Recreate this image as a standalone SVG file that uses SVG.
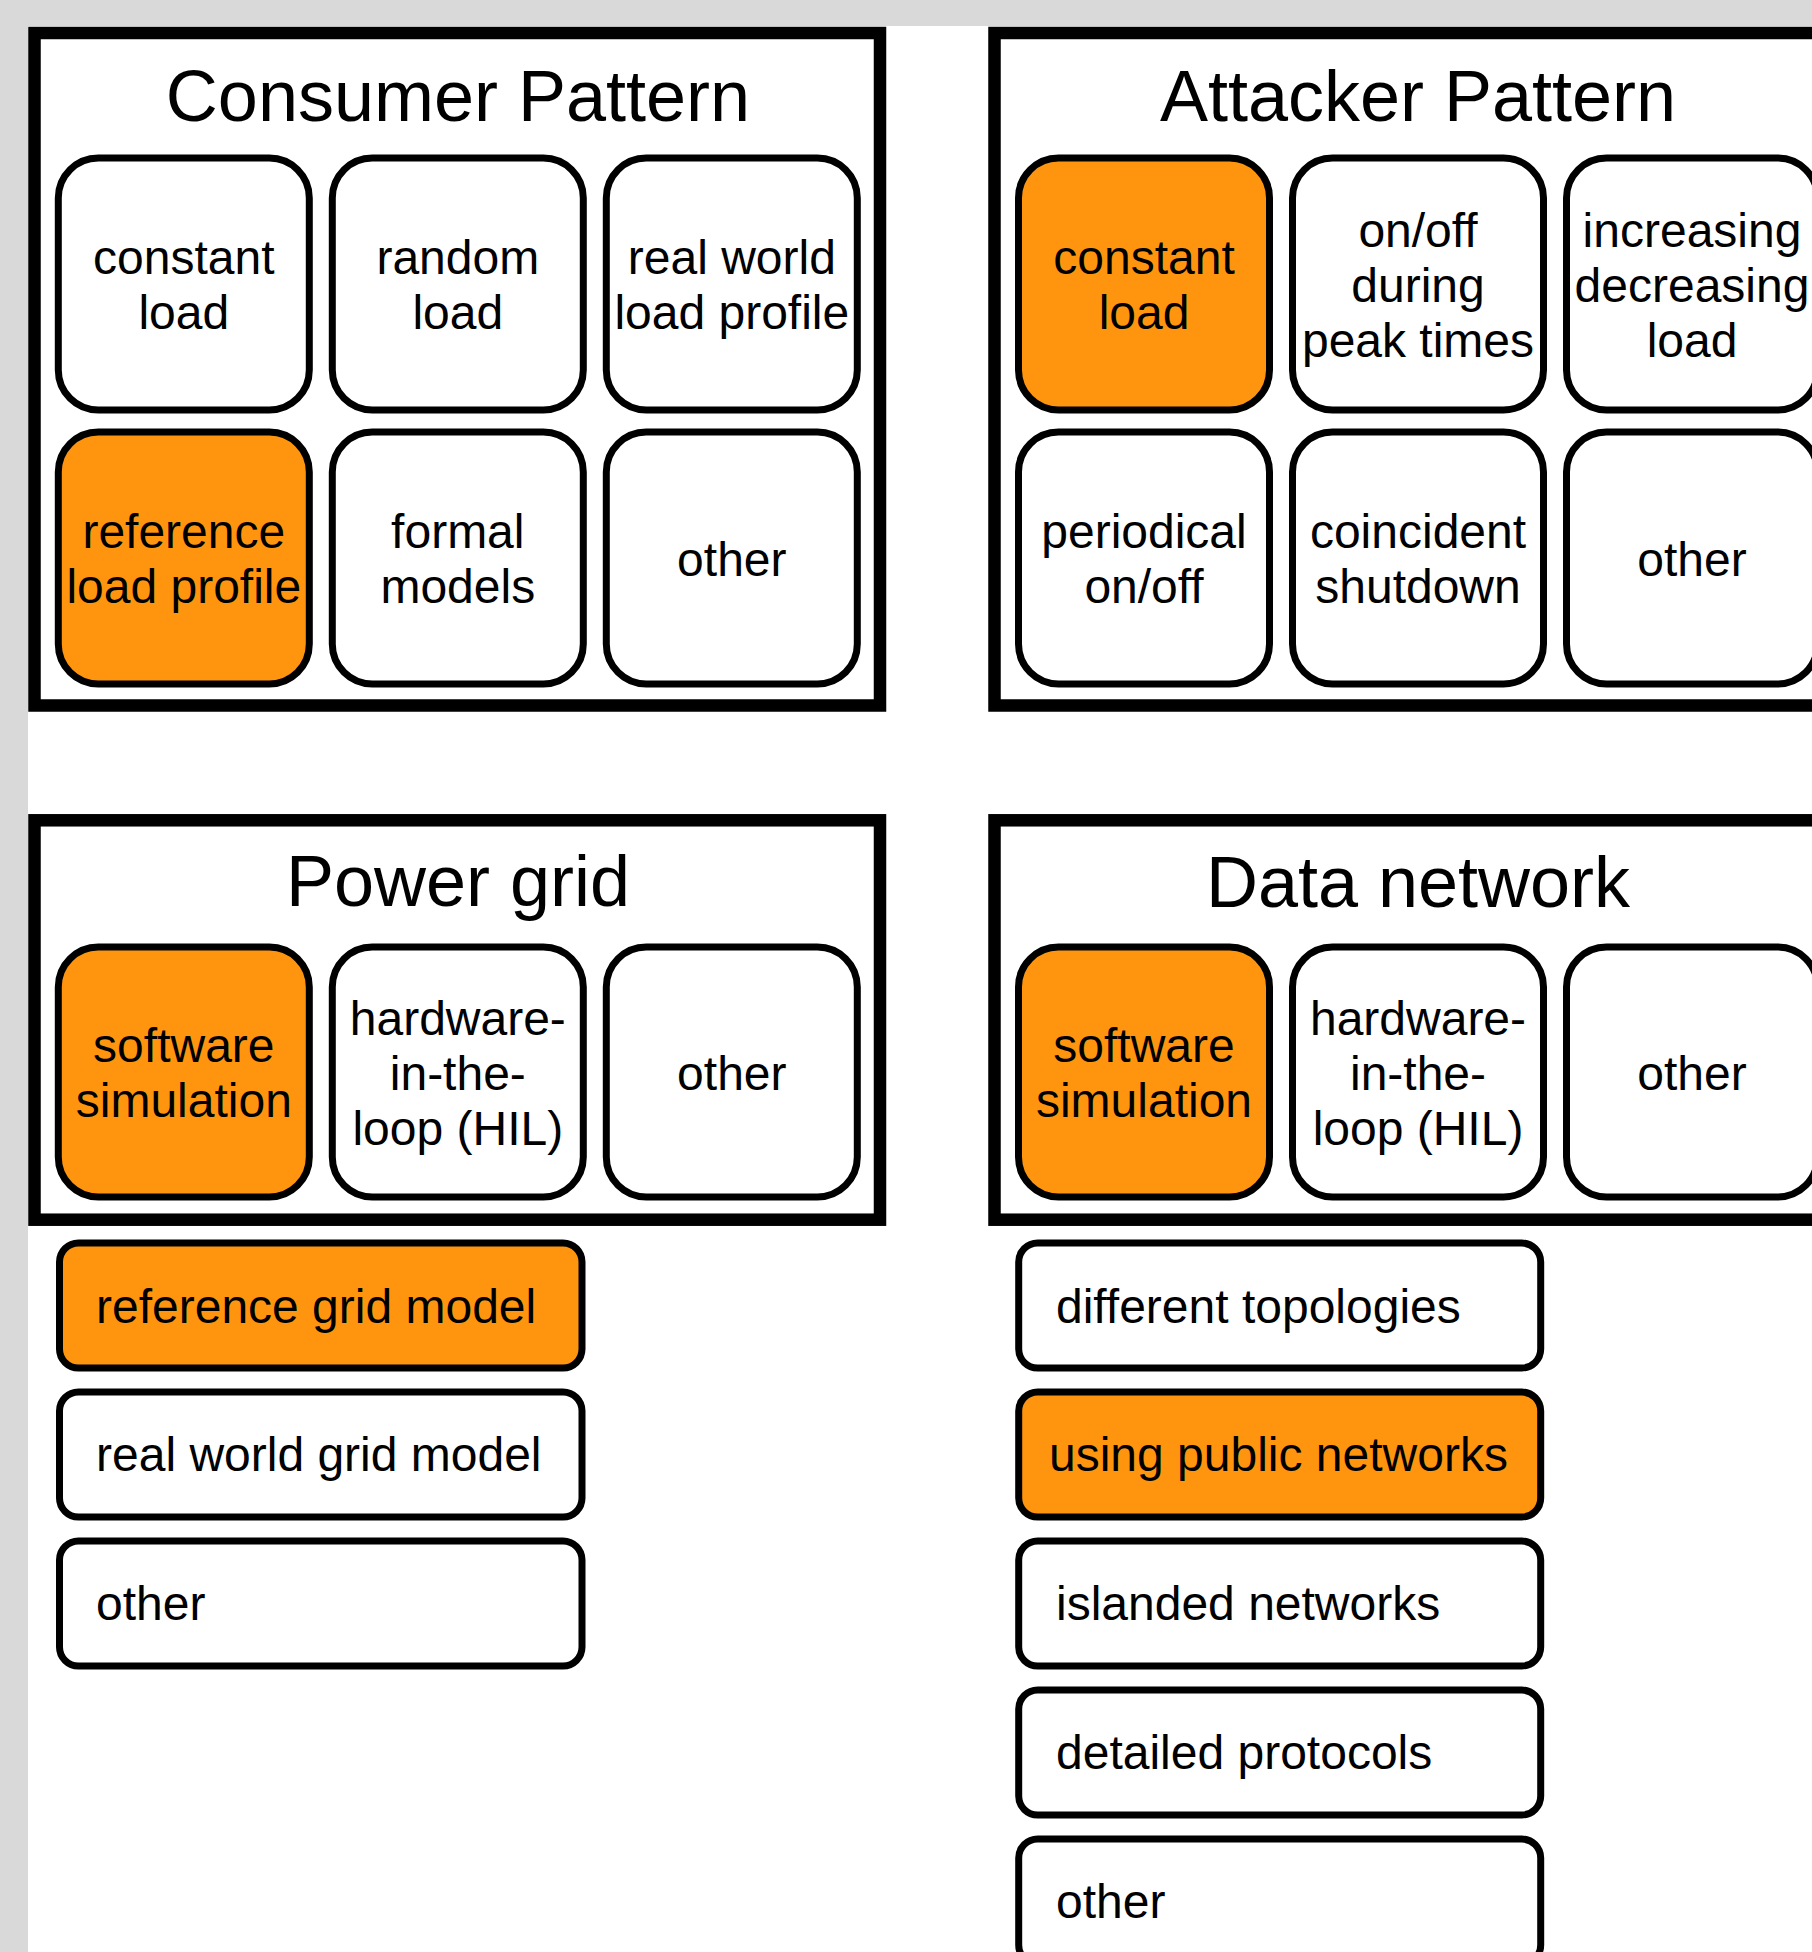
<svg xmlns="http://www.w3.org/2000/svg" width="1812" height="1952" viewBox="0 0 1812 1952">
<style>
.bg{fill:#d9d9d9}
.page{fill:#ffffff}
.panel{fill:#ffffff;stroke:#000;stroke-width:12.5}
.box{fill:#ffffff;stroke:#000;stroke-width:7}
.hl{fill:#ff950e}
.title{font-family:"Liberation Sans",Arial,sans-serif;font-size:72px;fill:#000;text-anchor:middle}
.lbl{font-family:"Liberation Sans",Arial,sans-serif;font-size:48px;fill:#000;text-anchor:middle}
.lst{font-family:"Liberation Sans",Arial,sans-serif;font-size:48px;fill:#000}
</style>
<rect class="bg" x="0" y="0" width="1812" height="1952"/>
<rect class="page" x="28" y="26" width="1784" height="1926"/>

<g id="consumer-pattern">
<rect class="panel" x="34.5" y="33" width="845.5" height="672.5"/>
<text class="title" x="458" y="121">Consumer Pattern</text>
</g>
<g id="cp-constant-load"><rect class="box" x="58.3" y="158" width="251" height="252" rx="40"/><text class="lbl" x="183.8" y="274">constant</text><text class="lbl" x="183.8" y="329">load</text></g>
<g id="cp-random-load"><rect class="box" x="332.3" y="158" width="251" height="252" rx="40"/><text class="lbl" x="457.8" y="274">random</text><text class="lbl" x="457.8" y="329">load</text></g>
<g id="cp-real-world"><rect class="box" x="606.3" y="158" width="251" height="252" rx="40"/><text class="lbl" x="731.8" y="274">real world</text><text class="lbl" x="731.8" y="329">load profile</text></g>
<g id="cp-reference"><rect class="box hl" x="58.3" y="432" width="251" height="252" rx="40"/><text class="lbl" x="183.8" y="548">reference</text><text class="lbl" x="183.8" y="603">load profile</text></g>
<g id="cp-formal"><rect class="box" x="332.3" y="432" width="251" height="252" rx="40"/><text class="lbl" x="457.8" y="548">formal</text><text class="lbl" x="457.8" y="603">models</text></g>
<g id="cp-other"><rect class="box" x="606.3" y="432" width="251" height="252" rx="40"/><text class="lbl" x="731.8" y="575.5">other</text></g>

<g id="attacker-pattern">
<rect class="panel" x="994.5" y="33" width="845.5" height="672.5"/>
<text class="title" x="1418" y="121">Attacker Pattern</text>
</g>
<g id="ap-constant-load"><rect class="box hl" x="1018.5" y="158" width="251" height="252" rx="40"/><text class="lbl" x="1144" y="274">constant</text><text class="lbl" x="1144" y="329">load</text></g>
<g id="ap-onoff-peak"><rect class="box" x="1292.5" y="158" width="251" height="252" rx="40"/><text class="lbl" x="1418" y="246.5">on/off</text><text class="lbl" x="1418" y="301.5">during</text><text class="lbl" x="1418" y="356.5">peak times</text></g>
<g id="ap-incdec"><rect class="box" x="1566.5" y="158" width="251" height="252" rx="40"/><text class="lbl" x="1692" y="246.5">increasing</text><text class="lbl" x="1692" y="301.5">decreasing</text><text class="lbl" x="1692" y="356.5">load</text></g>
<g id="ap-periodical"><rect class="box" x="1018.5" y="432" width="251" height="252" rx="40"/><text class="lbl" x="1144" y="548">periodical</text><text class="lbl" x="1144" y="603">on/off</text></g>
<g id="ap-coincident"><rect class="box" x="1292.5" y="432" width="251" height="252" rx="40"/><text class="lbl" x="1418" y="548">coincident</text><text class="lbl" x="1418" y="603">shutdown</text></g>
<g id="ap-other"><rect class="box" x="1566.5" y="432" width="251" height="252" rx="40"/><text class="lbl" x="1692" y="575.5">other</text></g>

<g id="power-grid">
<rect class="panel" x="34.5" y="820.3" width="845.5" height="399.4"/>
<text class="title" x="458" y="906">Power grid</text>
</g>
<g id="pg-software"><rect class="box hl" x="58.3" y="947" width="251" height="250" rx="40"/><text class="lbl" x="183.8" y="1062">software</text><text class="lbl" x="183.8" y="1117">simulation</text></g>
<g id="pg-hil"><rect class="box" x="332.3" y="947" width="251" height="250" rx="40"/><text class="lbl" x="457.8" y="1034.5">hardware-</text><text class="lbl" x="457.8" y="1089.5">in-the-</text><text class="lbl" x="457.8" y="1144.5">loop (HIL)</text></g>
<g id="pg-other"><rect class="box" x="606.3" y="947" width="251" height="250" rx="40"/><text class="lbl" x="731.8" y="1089.5">other</text></g>
<g id="pg-reference-grid"><rect class="box hl" x="59.5" y="1243" width="522.5" height="125" rx="19"/><text class="lst" x="96" y="1322.5">reference grid model</text></g>
<g id="pg-real-world-grid"><rect class="box" x="59.5" y="1392" width="522.5" height="125" rx="19"/><text class="lst" x="96" y="1471">real world grid model</text></g>
<g id="pg-list-other"><rect class="box" x="59.5" y="1541" width="522.5" height="125" rx="19"/><text class="lst" x="96" y="1620">other</text></g>

<g id="data-network">
<rect class="panel" x="994.5" y="820.3" width="845.5" height="399.4"/>
<text class="title" x="1418" y="907">Data network</text>
</g>
<g id="dn-software"><rect class="box hl" x="1018.5" y="947" width="251" height="250" rx="40"/><text class="lbl" x="1144" y="1062">software</text><text class="lbl" x="1144" y="1117">simulation</text></g>
<g id="dn-hil"><rect class="box" x="1292.5" y="947" width="251" height="250" rx="40"/><text class="lbl" x="1418" y="1034.5">hardware-</text><text class="lbl" x="1418" y="1089.5">in-the-</text><text class="lbl" x="1418" y="1144.5">loop (HIL)</text></g>
<g id="dn-other"><rect class="box" x="1566.5" y="947" width="251" height="250" rx="40"/><text class="lbl" x="1692" y="1089.5">other</text></g>
<g id="dn-topologies"><rect class="box" x="1018.7" y="1243" width="522" height="125" rx="19"/><text class="lst" x="1056" y="1322.5">different topologies</text></g>
<g id="dn-public"><rect class="box hl" x="1018.7" y="1392" width="522" height="125" rx="19"/><text class="lst" x="1049" y="1471">using public networks</text></g>
<g id="dn-islanded"><rect class="box" x="1018.7" y="1541" width="522" height="125" rx="19"/><text class="lst" x="1056" y="1620">islanded networks</text></g>
<g id="dn-protocols"><rect class="box" x="1018.7" y="1690" width="522" height="125" rx="19"/><text class="lst" x="1056" y="1769">detailed protocols</text></g>
<g id="dn-list-other"><rect class="box" x="1018.7" y="1839" width="522" height="125" rx="19"/><text class="lst" x="1056" y="1918">other</text></g>
</svg>
